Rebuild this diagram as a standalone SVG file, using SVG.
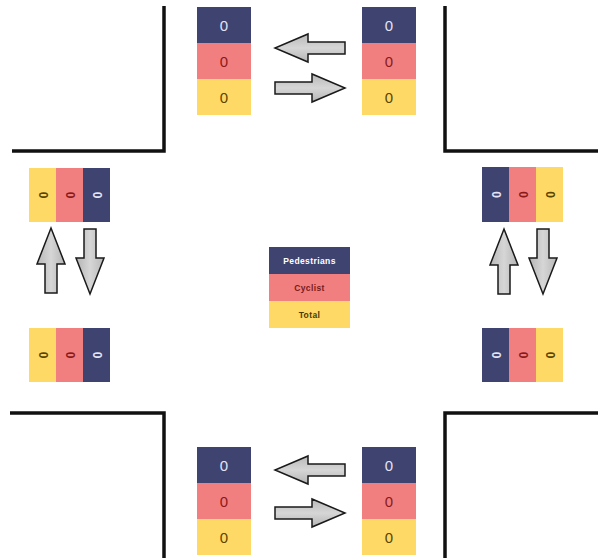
<svg xmlns="http://www.w3.org/2000/svg" width="607" height="558" viewBox="0 0 607 558">
<style>
.curb{fill:none;stroke:#111;stroke-width:3.5;stroke-linejoin:miter}
.ped{fill:#3f4370}
.cyc{fill:#f17f80}
.tot{fill:#ffd966}
.t{font-family:"Liberation Sans",Arial,sans-serif;font-size:15px;text-anchor:middle;dominant-baseline:central}
.s{font-family:"Liberation Sans",Arial,sans-serif;font-size:12px;text-anchor:middle;dominant-baseline:central;font-weight:bold}
.tp{fill:#e4e4f4}
.tc{fill:#8a1a1a}
.tt{fill:#5a4500}
.lg{font-family:"Liberation Sans",Arial,sans-serif;font-size:8.5px;font-weight:bold;text-anchor:middle;dominant-baseline:central;letter-spacing:0.4px}
.arr{fill:url(#ag);stroke:#1a1a1a;stroke-width:1.5;stroke-linejoin:miter}
</style>
<defs>
<linearGradient id="ag" x1="0" y1="0" x2="0" y2="1">
<stop offset="0" stop-color="#b8b8b8"/>
<stop offset="0.5" stop-color="#d6d6d6"/>
<stop offset="1" stop-color="#b4b4b4"/>
</linearGradient>
<path id="harrow" d="M0,-6 H37 V-14 L70,0 L37,14 V6 H0 Z"/>
<path id="varrow" d="M0,-6 H29 V-14 L65,0 L29,14 V6 H0 Z"/>
</defs>
<g id="curbs">
<path class="curb" d="M12,151 H164 V6"/>
<path class="curb" d="M445,6 V151 H598"/>
<path class="curb" d="M10,413 H164 V558"/>
<path class="curb" d="M598,413 H445 V558"/>
</g>
<g id="connectors">
<use href="#harrow" class="arr" transform="translate(345,48) scale(-1,1)"/>
<use href="#harrow" class="arr" transform="translate(275,88)"/>
<use href="#harrow" class="arr" transform="translate(345,470) scale(-1,1)"/>
<use href="#harrow" class="arr" transform="translate(275,513)"/>
<use href="#varrow" class="arr" transform="translate(51,293) rotate(-90)"/>
<use href="#varrow" class="arr" transform="translate(90,229) rotate(90)"/>
<use href="#varrow" class="arr" transform="translate(504,294) rotate(-90)"/>
<use href="#varrow" class="arr" transform="translate(543,229) rotate(90)"/>
</g>
<g id="north-west">
<rect class="ped" x="197" y="7" width="54" height="36"/>
<rect class="cyc" x="197" y="43" width="54" height="36"/>
<rect class="tot" x="197" y="79" width="54" height="36"/>
<text class="t tp" x="224" y="25">0</text>
<text class="t tc" x="224" y="61">0</text>
<text class="t tt" x="224" y="97">0</text>
</g>
<g id="north-east">
<rect class="ped" x="362" y="7" width="54" height="36"/>
<rect class="cyc" x="362" y="43" width="54" height="36"/>
<rect class="tot" x="362" y="79" width="54" height="36"/>
<text class="t tp" x="389" y="25">0</text>
<text class="t tc" x="389" y="61">0</text>
<text class="t tt" x="389" y="97">0</text>
</g>
<g id="south-west">
<rect class="ped" x="197" y="447" width="54" height="36"/>
<rect class="cyc" x="197" y="483" width="54" height="36"/>
<rect class="tot" x="197" y="519" width="54" height="36"/>
<text class="t tp" x="224" y="465">0</text>
<text class="t tc" x="224" y="501">0</text>
<text class="t tt" x="224" y="537">0</text>
</g>
<g id="south-east">
<rect class="ped" x="362" y="447" width="54" height="36"/>
<rect class="cyc" x="362" y="483" width="54" height="36"/>
<rect class="tot" x="362" y="519" width="54" height="36"/>
<text class="t tp" x="389" y="465">0</text>
<text class="t tc" x="389" y="501">0</text>
<text class="t tt" x="389" y="537">0</text>
</g>
<g id="west-north">
<rect class="tot" x="29" y="168" width="27" height="54"/>
<rect class="cyc" x="56" y="168" width="27" height="54"/>
<rect class="ped" x="83" y="168" width="27" height="54"/>
<text class="s tt" transform="translate(42.5,195) rotate(90)">0</text>
<text class="s tc" transform="translate(69.5,195) rotate(90)">0</text>
<text class="s tp" transform="translate(96.5,195) rotate(90)">0</text>
</g>
<g id="west-south">
<rect class="tot" x="29" y="328" width="27" height="54"/>
<rect class="cyc" x="56" y="328" width="27" height="54"/>
<rect class="ped" x="83" y="328" width="27" height="54"/>
<text class="s tt" transform="translate(42.5,355) rotate(90)">0</text>
<text class="s tc" transform="translate(69.5,355) rotate(90)">0</text>
<text class="s tp" transform="translate(96.5,355) rotate(90)">0</text>
</g>
<g id="east-north">
<rect class="ped" x="482" y="167" width="27" height="55"/>
<rect class="cyc" x="509" y="167" width="27" height="55"/>
<rect class="tot" x="536" y="167" width="27" height="55"/>
<text class="s tp" transform="translate(495.5,194.5) rotate(90)">0</text>
<text class="s tc" transform="translate(522.5,194.5) rotate(90)">0</text>
<text class="s tt" transform="translate(549.5,194.5) rotate(90)">0</text>
</g>
<g id="east-south">
<rect class="ped" x="482" y="328" width="27" height="54"/>
<rect class="cyc" x="509" y="328" width="27" height="54"/>
<rect class="tot" x="536" y="328" width="27" height="54"/>
<text class="s tp" transform="translate(495.5,355) rotate(90)">0</text>
<text class="s tc" transform="translate(522.5,355) rotate(90)">0</text>
<text class="s tt" transform="translate(549.5,355) rotate(90)">0</text>
</g>
<g id="legend">
<rect class="ped" x="269" y="247" width="81" height="27"/>
<rect class="cyc" x="269" y="274" width="81" height="27"/>
<rect class="tot" x="269" y="301" width="81" height="27"/>
<text class="lg" x="309.5" y="260.5" fill="#ffffff">Pedestrians</text>
<text class="lg" x="309.5" y="287.5" fill="#7a1a1a">Cyclist</text>
<text class="lg" x="309.5" y="314.5" fill="#4a3a00">Total</text>
</g>
</svg>
